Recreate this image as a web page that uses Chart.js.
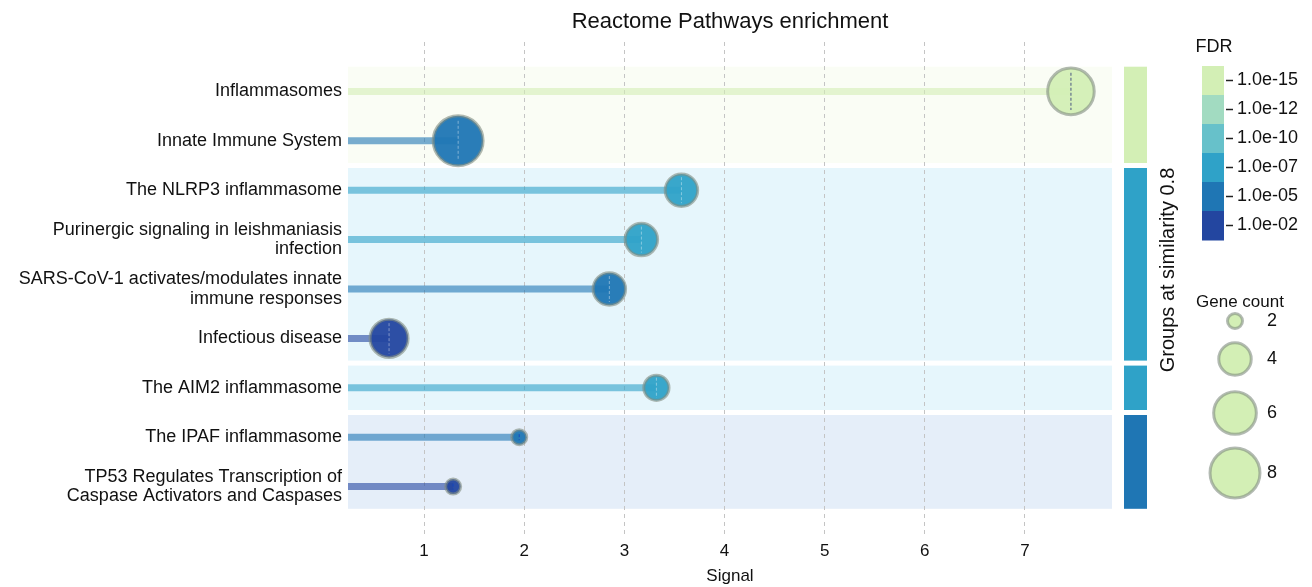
<!DOCTYPE html>
<html>
<head>
<meta charset="utf-8">
<title>Reactome Pathways enrichment</title>
<script src="https://cdn.jsdelivr.net/npm/chart.js@4.4.1/dist/chart.umd.min.js"></script>
<style>
    html, body { margin: 0; padding: 0; background: #ffffff; }
    #wrap { width: 1312px; height: 587px; }
</style>
</head>
<body>
<div id="wrap"><canvas id="reactome"></canvas></div>
<script>
// Pathways, top to bottom
const pathways = [
    'Inflammasomes',
    'Innate Immune System',
    'The NLRP3 inflammasome',
    ['Purinergic signaling in leishmaniasis', 'infection'],
    ['SARS-CoV-1 activates/modulates innate', 'immune responses'],
    'Infectious disease',
    'The AIM2 inflammasome',
    'The IPAF inflammasome',
    ['TP53 Regulates Transcription of', 'Caspase Activators and Caspases']
];
const signal = [7.46, 1.34, 3.57, 3.17, 2.85, 0.65, 3.32, 1.95, 1.29];
const geneCount = [7, 8, 4, 4, 4, 5, 3, 2, 2];
const fdr = [1e-15, 1e-5, 1e-7, 1e-7, 1e-5, 1e-2, 1e-7, 1e-5, 1e-2];
const groupOf = [0, 0, 1, 1, 1, 1, 2, 3, 3];

// Legends / scales
const fdrTicks = ['1.0e-15', '1.0e-12', '1.0e-10', '1.0e-07', '1.0e-05', '1.0e-02'];
const fdrColors = ['#d3efb5', '#a2dbc1', '#67c1ca', '#2fa2c8', '#1f76b4', '#2346a0'];
const groupColors = ['#d3efb5', '#2fa2c8', '#2fa2c8', '#1f76b4'];
const groupBands = ['#fafdf5', '#e6f6fc', '#e6f6fc', '#e5eef9'];
const countTicks = [2, 4, 6, 8];
const signalTicks = [1, 2, 3, 4, 5, 6, 7];

const FONT = "'Liberation Sans', Arial, Helvetica, sans-serif";

function fdrColor(v) {
    const idx = fdrTicks.findIndex(t => Number(t) === v);
    return fdrColors[idx < 0 ? fdrColors.length - 1 : idx];
}

// outer radius (px) of a bubble for a given gene count
function outerRadius(n) {
    return 9 + 12.6 * Math.log(n / 2);
}

function withAlpha(hex, a) {
    const r = parseInt(hex.slice(1, 3), 16);
    const g = parseInt(hex.slice(3, 5), 16);
    const b = parseInt(hex.slice(5, 7), 16);
    return 'rgba(' + r + ',' + g + ',' + b + ',' + a + ')';
}

const BORDER_W = 3;
const RING = 'rgba(128,140,128,0.6)';

const bubbleData = signal.map((s, i) => ({ x: s, y: i, r: outerRadius(geneCount[i]) - BORDER_W / 2 }));
const bubbleColors = fdr.map(fdrColor);

function groupRange(g) {
    const rows = [];
    groupOf.forEach((gg, i) => { if (gg === g) rows.push(i); });
    return [rows[0], rows[rows.length - 1]];
}

const decorations = {
    id: 'decorations',
    beforeDraw(chart) {
        const ctx = chart.ctx;
        const area = chart.chartArea;
        const y = chart.scales.y;
        ctx.save();
        groupBands.forEach((col, g) => {
            const [a, b] = groupRange(g);
            const top = y.getPixelForValue(a - 0.5) + (a === 0 ? 0 : 2.5);
            const bottom = y.getPixelForValue(b + 0.5) - 2.5;
            ctx.fillStyle = col;
            ctx.fillRect(area.left, top, area.right - area.left, bottom - top);
        });
        ctx.restore();
    },
    beforeDatasetsDraw(chart) {
        // lollipop stems
        const ctx = chart.ctx;
        const x = chart.scales.x;
        const y = chart.scales.y;
        ctx.save();
        ctx.lineWidth = 7;
        signal.forEach((s, i) => {
            const py = y.getPixelForValue(i);
            ctx.strokeStyle = withAlpha(bubbleColors[i], 0.6);
            ctx.beginPath();
            ctx.moveTo(chart.chartArea.left, py);
            ctx.lineTo(x.getPixelForValue(s), py);
            ctx.stroke();
        });
        ctx.restore();
    },
    afterDatasetsDraw(chart) {
        // small dashed marker through each bubble centre
        const ctx = chart.ctx;
        const meta = chart.getDatasetMeta(0);
        ctx.save();
        ctx.lineWidth = 1;
        ctx.setLineDash([3, 2]);
        meta.data.forEach((pt, i) => {
            const r = bubbleData[i].r;
            const len = r < 12 ? 3 : r * 0.8;
            if (i === 0) ctx.strokeStyle = 'rgba(50,60,120,0.85)';
            else if (r < 12) ctx.strokeStyle = 'rgba(20,70,190,0.9)';
            else ctx.strokeStyle = 'rgba(255,255,255,0.4)';
            ctx.beginPath();
            ctx.moveTo(pt.x, pt.y - len);
            ctx.lineTo(pt.x, pt.y + len);
            ctx.stroke();
        });
        ctx.restore();
    },
    afterDraw(chart) {
        const ctx = chart.ctx;
        const area = chart.chartArea;
        const y = chart.scales.y;
        ctx.save();

        // title
        ctx.fillStyle = '#111';
        ctx.font = '22px ' + FONT;
        ctx.textAlign = 'center';
        ctx.textBaseline = 'middle';
        ctx.fillText('Reactome Pathways enrichment', (area.left + area.right) / 2, 22);

        // group bars
        const gx = area.right + 12;
        groupColors.forEach((col, g) => {
            const [a, b] = groupRange(g);
            const top = y.getPixelForValue(a - 0.5) + (a === 0 ? 0 : 2.5);
            const bottom = y.getPixelForValue(b + 0.5) - 2.5;
            ctx.fillStyle = col;
            ctx.fillRect(gx, top, 23, bottom - top);
        });
        ctx.save();
        ctx.translate(area.right + 56, 270);
        ctx.rotate(-Math.PI / 2);
        ctx.fillStyle = '#111';
        ctx.font = '20px ' + FONT;
        ctx.fillText('Groups at similarity 0.8', 0, 0);
        ctx.restore();

        // FDR colourbar
        const cbX = 1202, cbY = 66, cbW = 22, segH = 29;
        ctx.font = '18px ' + FONT;
        ctx.fillStyle = '#111';
        ctx.textAlign = 'center';
        ctx.fillText('FDR', 1214, 47);
        ctx.textAlign = 'left';
        fdrTicks.forEach((t, k) => {
            const sy = cbY + k * segH;
            ctx.fillStyle = fdrColors[k];
            ctx.fillRect(cbX, sy, cbW, segH + 0.5);
            ctx.strokeStyle = '#222';
            ctx.lineWidth = 1.5;
            ctx.beginPath();
            ctx.moveTo(cbX + cbW + 2, sy + segH / 2);
            ctx.lineTo(cbX + cbW + 9, sy + segH / 2);
            ctx.stroke();
            ctx.fillStyle = '#111';
            ctx.fillText(t, cbX + cbW + 13, sy + segH / 2);
        });

        // gene count legend
        ctx.textAlign = 'center';
        ctx.font = '17px ' + FONT;
        ctx.fillText('Gene count', 1240, 302);
        const legendY = [321, 359, 413, 473];
        ctx.textAlign = 'left';
        ctx.font = '18px ' + FONT;
        countTicks.forEach((n, k) => {
            const r = outerRadius(n) - BORDER_W / 2;
            ctx.beginPath();
            ctx.arc(1235, legendY[k], r, 0, Math.PI * 2);
            ctx.fillStyle = '#d3efb5';
            ctx.fill();
            ctx.lineWidth = BORDER_W;
            ctx.strokeStyle = RING;
            ctx.stroke();
            ctx.fillStyle = '#111';
            ctx.fillText(String(n), 1267, legendY[k]);
        });

        ctx.restore();
    }
};

new Chart(document.getElementById('reactome'), {
    type: 'bubble',
    data: {
        datasets: [{
            data: bubbleData,
            backgroundColor: bubbleColors.map(c => withAlpha(c, 0.95)),
            borderColor: RING,
            borderWidth: BORDER_W
        }]
    },
    options: {
        responsive: true,
        maintainAspectRatio: false,
        animation: false,
        events: [],
        layout: { padding: { top: 42, right: 200, left: 0, bottom: 0 } },
        scales: {
            x: {
                type: 'linear',
                min: 0.24,
                max: 7.87,
                afterBuildTicks: scale => { scale.ticks = signalTicks.map(v => ({ value: v })); },
                afterFit: scale => { scale.height = 51; },
                grid: {
                    color: '#c4c4c4',
                    lineWidth: 1,
                    drawTicks: false
                },
                border: { display: false, dash: [4, 4] },
                ticks: {
                    color: '#111',
                    padding: 5,
                    font: { family: FONT, size: 17 }
                },
                title: {
                    display: true,
                    text: 'Signal',
                    color: '#111',
                    padding: { top: 0, bottom: 0 },
                    font: { family: FONT, size: 17 }
                }
            },
            y: {
                type: 'linear',
                reverse: true,
                min: -1,
                max: 9,
                afterBuildTicks: scale => { scale.ticks = pathways.map((_, i) => ({ value: i })); },
                afterFit: scale => { scale.width = 348; },
                grid: { display: false, drawTicks: false },
                border: { display: false },
                ticks: {
                    color: '#111',
                    padding: 6,
                    font: { family: FONT, size: 18, lineHeight: 1.1 },
                    callback: (v, i) => pathways[i]
                }
            }
        },
        plugins: {
            legend: { display: false },
            title: { display: false },
            tooltip: { enabled: false }
        }
    },
    plugins: [decorations]
});
</script>
</body>
</html>
